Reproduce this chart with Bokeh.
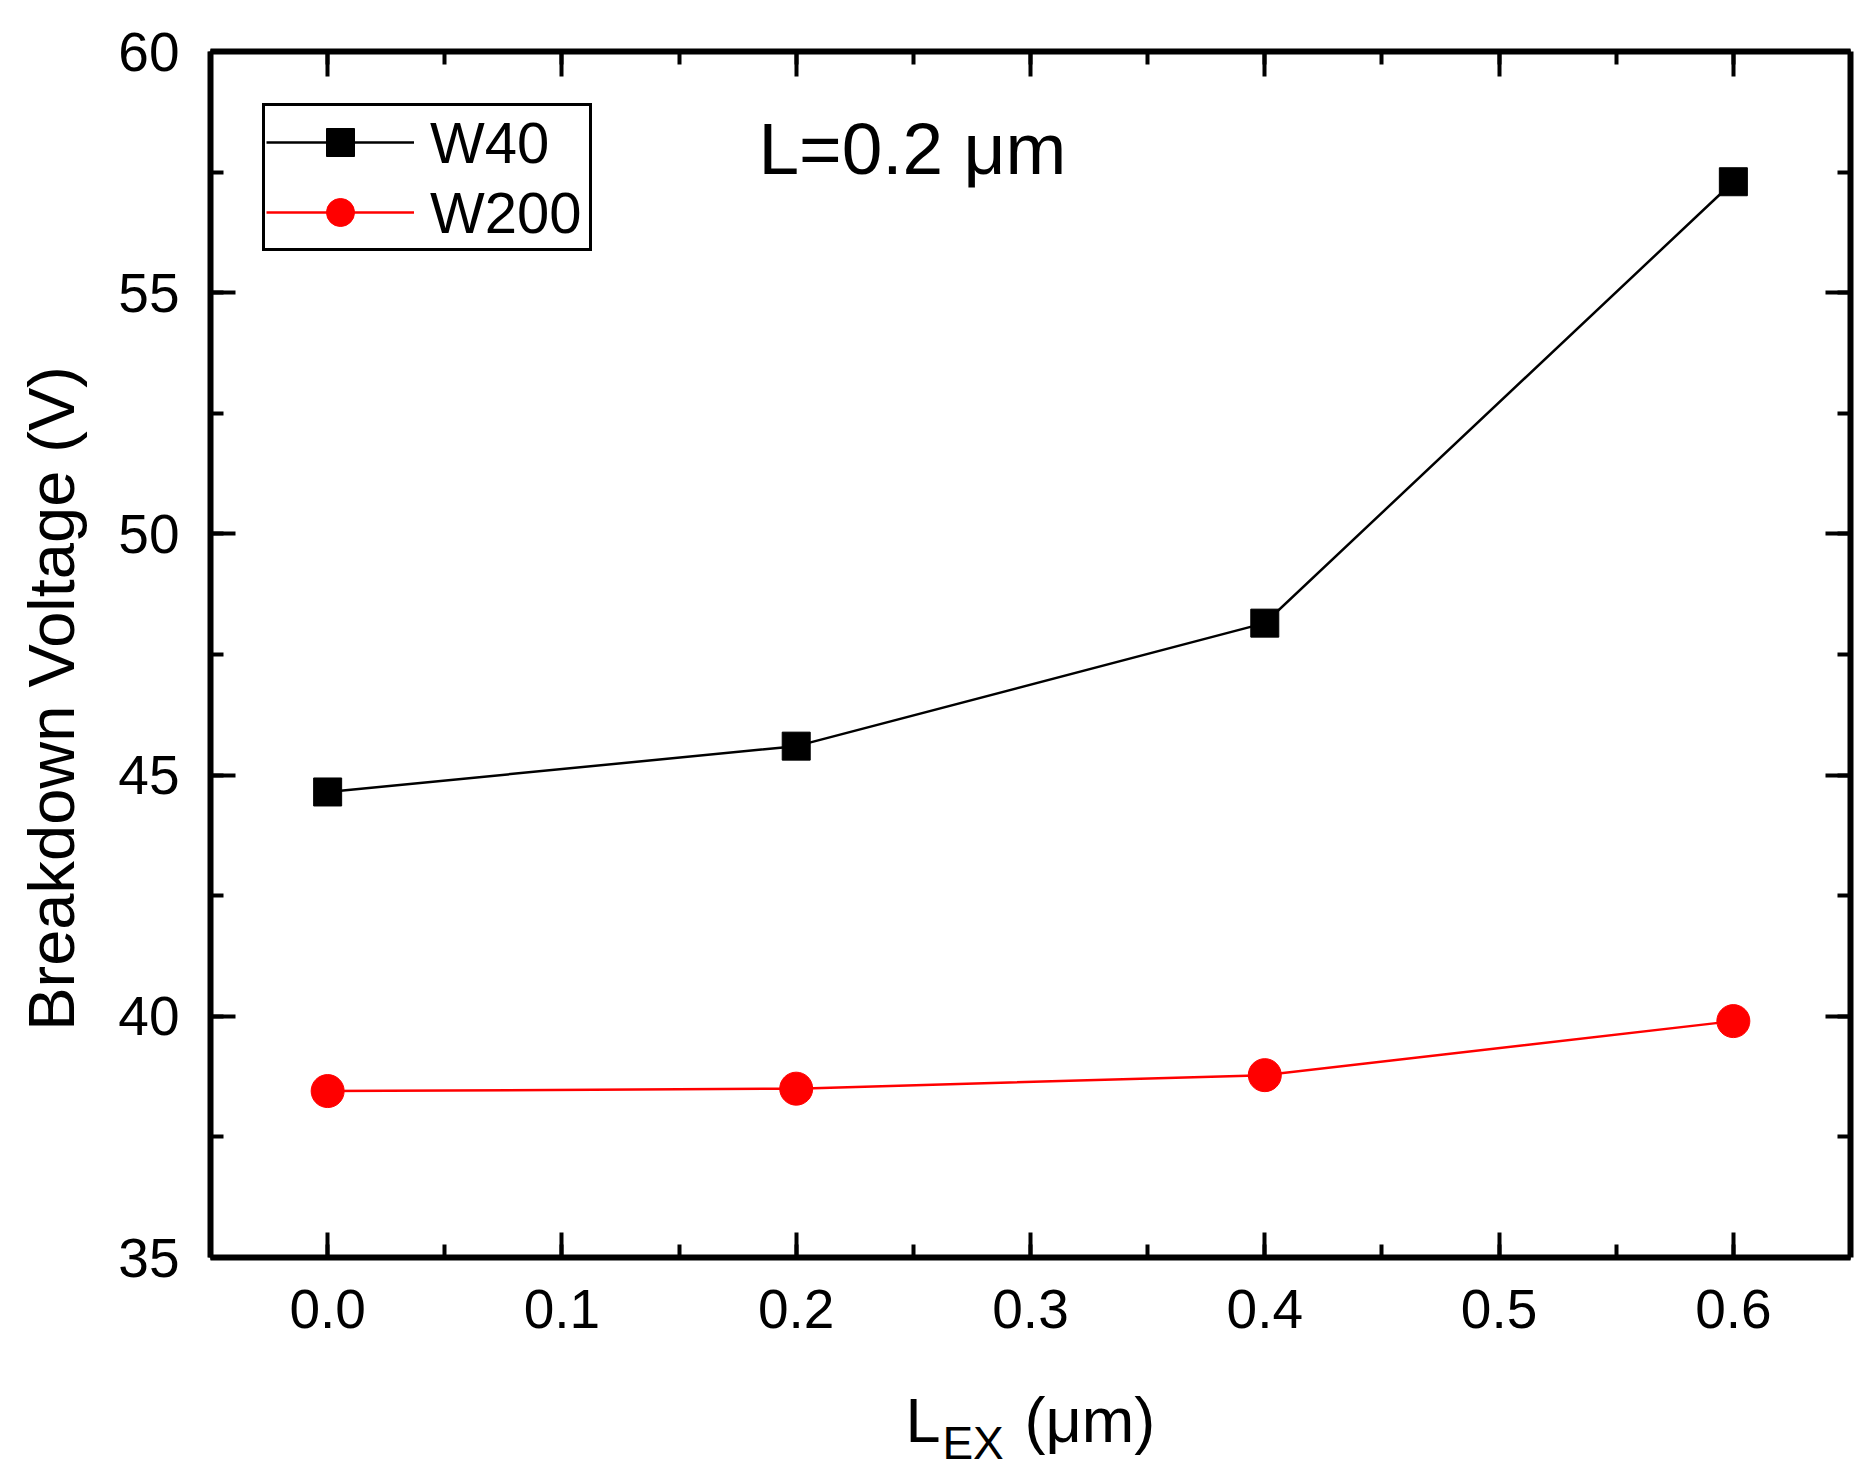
from math import pi

from bokeh.plotting import figure
from bokeh.layouts import row, column
from bokeh.models import LinearAxis, SingleIntervalTicker, Range1d, Label, CustomJSTickFormatter, PrintfTickFormatter
from bokeh.core.properties import value
from bokeh.embed import file_html
from bokeh.resources import INLINE

# data
lex = [0.0, 0.2, 0.4, 0.6]
w40 = [44.65, 45.6, 48.15, 57.3]
w200 = [38.45, 38.5, 38.78, 39.9]

FONT = "Liberation Sans"

# main plot
p = figure(
    width=1765, height=1357,
    x_range=Range1d(-0.05, 0.65), y_range=Range1d(35, 60),
    output_backend="svg", toolbar_location=None,
    min_border_left=115, min_border_right=10,
    min_border_top=51, min_border_bottom=100,
)
p.xgrid.visible = False
p.ygrid.visible = False
p.outline_line_color = None

p.line(lex, w40, color="black", line_width=2.5, legend_label="W40")
p.scatter(lex, w40, marker="square", size=28, color="black", legend_label="W40")
p.line(lex, w200, color="red", line_width=2.5, legend_label="W200")
p.scatter(lex, w200, marker="circle", size=33, color="red", legend_label="W200")


def style_axis(ax, interval):
    ax.ticker = SingleIntervalTicker(interval=interval, num_minor_ticks=2)
    ax.axis_line_width = 6
    ax.axis_line_color = "black"
    ax.major_tick_in = 25
    ax.major_tick_out = 0
    ax.minor_tick_in = 13
    ax.minor_tick_out = 0
    ax.major_tick_line_width = 4
    ax.minor_tick_line_width = 4
    ax.major_tick_line_color = "black"
    ax.minor_tick_line_color = "black"
    ax.major_label_text_font = FONT
    ax.major_label_text_font_size = "55px"
    ax.major_label_text_color = "black"


style_axis(p.xaxis[0], 0.1)
style_axis(p.yaxis[0], 5)
p.xaxis[0].formatter = PrintfTickFormatter(format="%.1f")
p.xaxis[0].major_label_standoff = 32
p.yaxis[0].major_label_standoff = 31

# mirrored axes, ticks only
blank = CustomJSTickFormatter(code="return ''")
top = LinearAxis(formatter=blank)
right = LinearAxis(formatter=blank)
style_axis(top, 0.1)
style_axis(right, 5)
top.major_label_standoff = 0
right.major_label_standoff = 0
p.add_layout(top, "above")
p.add_layout(right, "right")

# annotation
p.add_layout(Label(x=0.1839, y=57.16, text="L=0.2 \u03bcm", text_font=FONT,
                   text_font_size="73px", text_color="black"))

# legend
lg = p.legend[0]
lg.location = "top_left"
lg.margin = 52
lg.padding = 1
lg.spacing = 0
lg.glyph_width = 148
lg.glyph_height = 70
lg.label_height = 70
lg.label_width = 158
lg.label_standoff = 16
lg.label_text_font = FONT
lg.label_text_font_size = "58px"
lg.label_text_color = "black"
lg.border_line_color = "black"
lg.border_line_alpha = 1.0
lg.border_line_width = 3
lg.background_fill_color = "white"
lg.background_fill_alpha = 1.0

# y axis title strip
pl = figure(
    width=95, height=1357,
    x_range=Range1d(0, 95), y_range=p.y_range,
    output_backend="svg", toolbar_location=None,
    x_axis_location=None, y_axis_location=None,
    min_border_left=0, min_border_right=0,
    min_border_top=51, min_border_bottom=100,
)
pl.grid.visible = False
pl.outline_line_color = None
pl.text(x=[51], y=[46.59], text=["Breakdown Voltage (V)"], angle=pi / 2,
        text_font=value(FONT), text_font_size=value("65px"), text_color="black",
        text_align="center", text_baseline="alphabetic")

# x axis title strip: L_EX (um)
pb = figure(
    width=1765, height=115,
    x_range=p.x_range, y_range=Range1d(0, 115),
    output_backend="svg", toolbar_location=None,
    x_axis_location=None, y_axis_location=None,
    min_border_left=115, min_border_right=10,
    min_border_top=0, min_border_bottom=0,
)
pb.grid.visible = False
pb.outline_line_color = None
pb.text(x=[0.2466, 0.2974], y=[53, 53], text=["L", "(\u03bcm)"],
        text_font=value(FONT), text_font_size=value("63px"), text_color="black",
        text_align="left", text_baseline="alphabetic")
pb.text(x=[0.2624], y=[30], text=["EX"],
        text_font=value(FONT), text_font_size=value("46px"), text_color="black",
        text_align="left", text_baseline="alphabetic")

layout = row(pl, column(p, pb))

open("out.html", "w").write(file_html(layout, INLINE))
